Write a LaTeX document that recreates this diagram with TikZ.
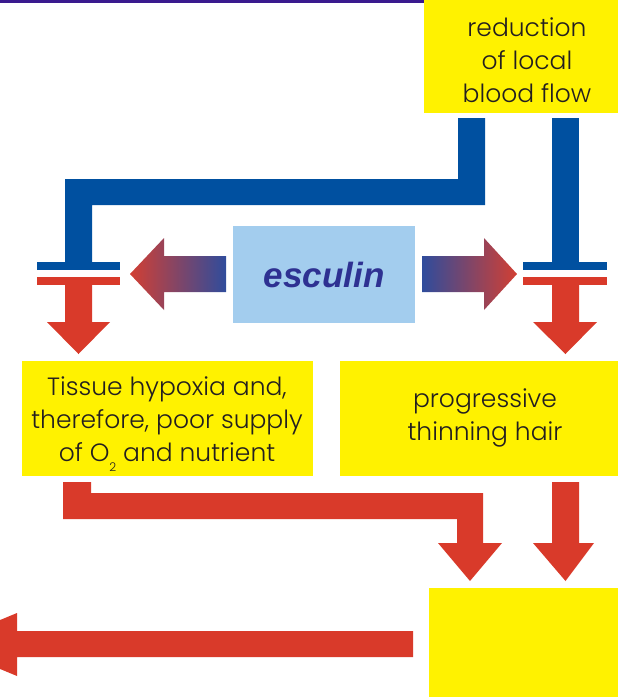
\documentclass[tikz,border=0pt]{standalone}
\usepackage{fontspec}
\IfFontExistsTF{Poppins Light}{\setmainfont{Poppins Light}}{\setmainfont{Poppins}}
\newfontfamily\escfont{Liberation Sans}
\usetikzlibrary{calc}
\definecolor{ylw}{HTML}{FFF200}
\definecolor{bbar}{HTML}{0050A0}
\definecolor{rbar}{HTML}{D93A2A}
\definecolor{lblue}{HTML}{A3CDEE}
\definecolor{topline}{HTML}{3A1A8E}
\definecolor{esc}{HTML}{2E3192}
\definecolor{txt}{HTML}{231F20}
\definecolor{gradred}{HTML}{D23F33}
\definecolor{gradblue}{HTML}{2F4C9C}
\newcommand{\lowsub}[1]{\raisebox{-10pt}{\fontsize{12}{12}\selectfont #1}}
\begin{document}
\begin{tikzpicture}[x=1pt,y=-1pt,
  ybox/.style={fill=ylw, draw=none, inner sep=0, anchor=north west},
  btext/.style={text=txt, align=center, font=\fontsize{25}{33}\selectfont, inner sep=0},
  bluefill/.style={fill=bbar, draw=none},
  redfill/.style={fill=rbar, draw=none}]
\useasboundingbox (0,0) rectangle (618,697);
\clip (0,0) rectangle (618,697);
% top line
\fill[topline] (0,0) rectangle (424,2.7);
% boxes
\node[ybox, minimum width=206, minimum height=112.7] (topbox) at (424,0) {};
\node[btext] (toptxt) at (527,60) {reduction\\of local\\blood flow};
\node[ybox, minimum width=291, minimum height=115] (leftbox) at (22,361) {};
\node[btext] (lefttxt) at (167,424) {Tissue hypoxia and,\\therefore, poor supply\\of O\lowsub{2} and nutrient};
\node[ybox, minimum width=290, minimum height=115] (rightbox) at (340,361) {};
\node[btext] (righttxt) at (485,418) {progressive\\thinning hair};
\node[ybox, minimum width=201, minimum height=120] (botbox) at (429,588) {};
\node[fill=lblue, inner sep=0, anchor=north west, minimum width=182, minimum height=97,
      text=esc, font=\escfont\bfseries\itshape\fontsize{35}{40}\selectfont] (esc) at (233,226) {esculin};
% blue inhibition paths
\fill[bluefill] (458,118) -- (485,118) -- (485,205) -- (92,205) -- (92,262) -- (65,262) -- (65,179) -- (458,179) -- cycle;
\fill[bluefill] (552,118) rectangle (579,262);
\fill[bluefill] (37,262) rectangle (120,270);
\fill[bluefill] (523,262) rectangle (607,270);
\fill[redfill] (37,277) rectangle (120,285);
\fill[redfill] (523,277) rectangle (607,285);
% red arrows below bars
\fill[redfill] (65,285) -- (92,285) -- (92,322) -- (110,322) -- (78.5,354) -- (47,322) -- (65,322) -- cycle;
\fill[redfill] (552,285) -- (579,285) -- (579,322) -- (597,322) -- (565.5,354) -- (533,322) -- (552,322) -- cycle;
% gradient arrows from esculin
\shade[left color=gradred, right color=gradblue] (226,256) -- (164,256) -- (164,238) -- (130,274) -- (164,310) -- (164,292) -- (226,292) -- cycle;
\shade[left color=gradblue, right color=gradred] (422,256) -- (484,256) -- (484,238) -- (517,274) -- (484,310) -- (484,292) -- (422,292) -- cycle;
% lower red arrows
\fill[redfill] (63,482) -- (91,482) -- (91,493) -- (483,493) -- (483,543) -- (502,543) -- (470,581) -- (438,543) -- (457,543) -- (457,519) -- (63,519) -- cycle;
\fill[redfill] (552,482) -- (579,482) -- (579,543) -- (594,543) -- (565.5,581) -- (533,543) -- (552,543) -- cycle;
\fill[redfill] (413,631) -- (17,631) -- (17,613) -- (-59,644.5) -- (17,676) -- (17,657) -- (413,657) -- cycle;
\end{tikzpicture}
\end{document}
